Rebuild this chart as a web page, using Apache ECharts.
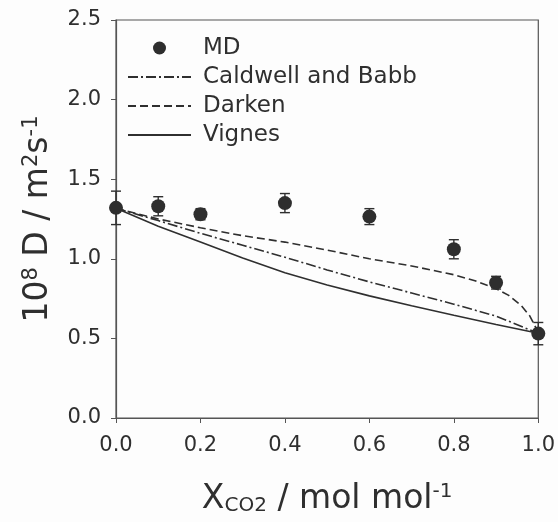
<!DOCTYPE html>
<html>
<head>
<meta charset="utf-8">
<script src="https://cdn.jsdelivr.net/npm/echarts@6/dist/echarts.min.js"></script>
<style>
html,body{margin:0;padding:0;background:#fdfdfd;}
#chart{width:558px;height:522px;}
</style>
</head>
<body>
<div id="chart"></div>
<script>
// ---- data ----
var mdX   = [0, 0.1, 0.2, 0.4, 0.6, 0.8, 0.9, 1.0];
var mdY   = [1.32, 1.33, 1.28, 1.35, 1.265, 1.06, 0.85, 0.53];
var mdErr = [0.105, 0.06, 0.035, 0.06, 0.05, 0.06, 0.04, 0.07];

var curveX    = [0, 0.1, 0.2, 0.3, 0.4, 0.5, 0.6, 0.7, 0.8, 0.9, 1.0];
var vignesY   = [1.317, 1.205, 1.105, 1.005, 0.912, 0.835, 0.767, 0.705, 0.645, 0.587, 0.532];
var caldwellY = [1.317, 1.24, 1.16, 1.085, 1.01, 0.93, 0.855, 0.785, 0.715, 0.64, 0.532];

var darkenX = [0, 0.1, 0.2, 0.3, 0.4, 0.5, 0.6, 0.7, 0.8, 0.85, 0.9, 0.93, 0.96, 0.98, 0.99, 1.0];
var darkenY = [1.317, 1.25, 1.195, 1.145, 1.105, 1.055, 1.0, 0.955, 0.9, 0.862, 0.812, 0.77, 0.705, 0.64, 0.59, 0.532];

var seriesNames = ['MD', 'Caldwell and Babb', 'Darken', 'Vignes'];

function pairs(xs, ys) { return xs.map(function (x, i) { return [x, ys[i]]; }); }

var ink = '#2f2f2f';
var font = 'DejaVu Sans';
var hidden = {color: 'rgba(0,0,0,0)', borderWidth: 0};

var chart = echarts.init(document.getElementById('chart'), null, {renderer: 'canvas'});
chart.setOption({
  backgroundColor: '#fdfdfd',
  animation: false,
  textStyle: {fontFamily: font, color: ink},
  grid: {left: 116, right: 18, top: 20, bottom: 104, show: true, borderColor: '#555', borderWidth: 1.2, backgroundColor: 'transparent'},
  legend: {
    data: [
      {name: seriesNames[0]},
      {name: seriesNames[1], itemStyle: hidden},
      {name: seriesNames[2], itemStyle: hidden},
      {name: seriesNames[3], itemStyle: hidden}
    ],
    orient: 'vertical',
    left: 122,
    top: 31,
    itemWidth: 63,
    itemHeight: 13,
    itemGap: 5,
    textStyle: {fontFamily: font, fontSize: 23, color: ink, lineHeight: 24, padding: [0, 0, 0, 7]}
  },
  xAxis: {
    type: 'value', min: 0, max: 1, interval: 0.2,
    axisLine: {show: true, lineStyle: {color: '#555', width: 1.2}},
    axisTick: {show: true, length: 5, lineStyle: {color: '#555'}},
    splitLine: {show: false},
    axisLabel: {fontFamily: font, fontSize: 21, color: ink, margin: 17, formatter: function (v) { return v.toFixed(1); }},
    name: '{b|X}{sub|CO2}{b| / mol mol}{sup|-1}',
    nameLocation: 'middle',
    nameGap: 64,
    nameTextStyle: {
      rich: {
        b: {fontFamily: font, fontSize: 33, color: ink},
        sub: {fontFamily: font, fontSize: 20, color: ink, verticalAlign: 'bottom', padding: [14, 0, 0, 0]},
        sup: {fontFamily: font, fontSize: 20, color: ink, verticalAlign: 'top', padding: [0, 0, 14, 0]}
      }
    }
  },
  yAxis: {
    type: 'value', min: 0, max: 2.5, interval: 0.5,
    axisLine: {show: true, lineStyle: {color: '#555', width: 1.2}},
    axisTick: {show: true, length: 5, lineStyle: {color: '#555'}},
    splitLine: {show: false},
    axisLabel: {fontFamily: font, fontSize: 21, color: ink, margin: 15, formatter: function (v) { return v.toFixed(1); }},
    name: '{b|10}{sup|8}{b| D / m}{sup|2}{b|s}{sup|-1}',
    nameLocation: 'middle',
    nameGap: 60,
    nameTextStyle: {
      rich: {
        b: {fontFamily: font, fontSize: 33, color: ink},
        sup: {fontFamily: font, fontSize: 21, color: ink, verticalAlign: 'top', padding: [0, 0, 14, 0]}
      }
    }
  },
  series: [
    {
      name: 'errbar',
      type: 'custom',
      z: 2,
      silent: true,
      encode: {x: 0, y: 1},
      data: mdX.map(function (x, i) { return [x, mdY[i], mdErr[i]]; }),
      renderItem: function (params, api) {
        var x = api.value(0), y = api.value(1), e = api.value(2);
        var lo = api.coord([x, y - e]);
        var hi = api.coord([x, y + e]);
        var cw = 5;
        var st = {stroke: ink, lineWidth: 1.4};
        return {
          type: 'group',
          children: [
            {type: 'line', shape: {x1: lo[0], y1: lo[1], x2: hi[0], y2: hi[1]}, style: st},
            {type: 'line', shape: {x1: lo[0] - cw, y1: lo[1], x2: lo[0] + cw, y2: lo[1]}, style: st},
            {type: 'line', shape: {x1: hi[0] - cw, y1: hi[1], x2: hi[0] + cw, y2: hi[1]}, style: st}
          ]
        };
      }
    },
    {
      name: 'MD',
      type: 'scatter',
      z: 5,
      symbol: 'circle',
      symbolSize: 14,
      itemStyle: {color: '#2e2e2e', opacity: 1},
      data: pairs(mdX, mdY)
    },
    {
      name: 'Caldwell and Babb',
      type: 'line',
      symbol: 'none',
      smooth: false,
      lineStyle: {color: ink, width: 1.6, type: [10, 3, 2, 3]},
      itemStyle: {color: ink},
      data: pairs(curveX, caldwellY)
    },
    {
      name: 'Darken',
      type: 'line',
      symbol: 'none',
      smooth: false,
      lineStyle: {color: ink, width: 1.6, type: [8, 4]},
      itemStyle: {color: ink},
      data: pairs(darkenX, darkenY)
    },
    {
      name: 'Vignes',
      type: 'line',
      symbol: 'none',
      smooth: false,
      lineStyle: {color: ink, width: 1.6, type: 'solid'},
      itemStyle: {color: ink},
      data: pairs(curveX, vignesY)
    }
  ]
});
</script>
</body>
</html>
